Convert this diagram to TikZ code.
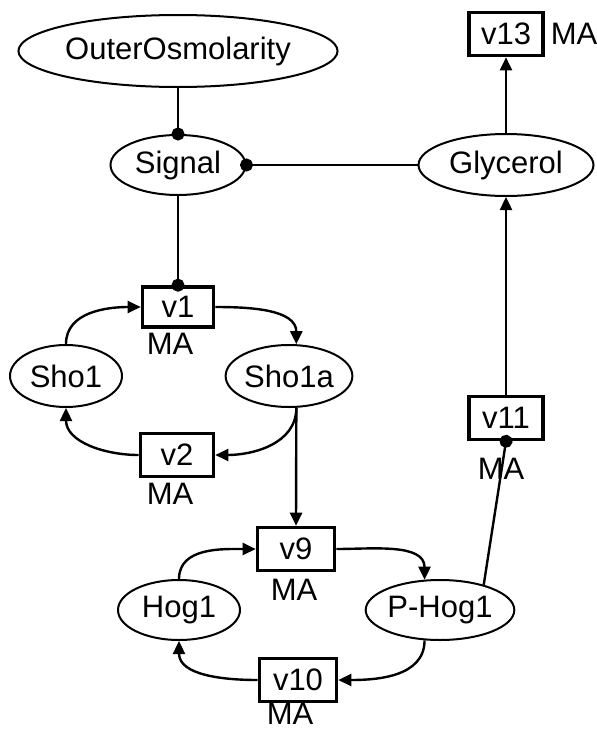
\documentclass[tikz,border=0pt]{standalone}
\usepackage{fontspec}
\setmainfont{Liberation Sans}
\usetikzlibrary{arrows.meta,shapes.geometric}
\begin{document}
\begin{tikzpicture}[x=1pt,y=-1pt,
  font=\fontsize{31}{36}\selectfont,
  species/.style={ellipse,draw,line width=2pt,inner sep=0pt},
  reaction/.style={rectangle,draw,line width=3.6pt,inner sep=0pt,minimum height=43pt},
  law/.style={inner sep=0pt},
  flow/.style={line width=2.4pt,-{Triangle[length=13pt,width=12pt]}},
  modifier/.style={line width=2.4pt,-{Circle[length=13pt]},shorten >=-6.5pt},
  link/.style={line width=2.4pt}]
\useasboundingbox (0,0) rectangle (597,731);

% species
\node[species,minimum width=270pt,minimum height=72pt] (outer) at (178,51) {OuterOsmolarity};
\node[species,minimum width=135pt,minimum height=60pt] (signal) at (178,165) {Signal};
\node[species,minimum width=175pt,minimum height=62pt] (glycerol) at (506,165) {Glycerol};
\node[species,minimum width=112pt,minimum height=62pt] (sho1) at (66,376) {Sho1};
\node[species,minimum width=114pt,minimum height=62pt] (sho1a) at (289,376) {Sho1a};
\node[species,minimum width=122pt,minimum height=60pt] (hog1) at (179,610) {Hog1};
\node[species,minimum width=120pt,minimum height=60pt] (phog1) at (440,610) {P-Hog1};

% reactions and their rate laws
\node[reaction,minimum width=74pt] (v13) at (506,34) {v13};
\node[law] at (574,34) {MA};
\node[reaction,minimum width=71pt,minimum height=40pt] (v1) at (178,307) {v1};
\node[law] at (170,344) {MA};
\node[reaction,minimum width=73pt] (v2) at (177,455) {v2};
\node[law] at (170,494) {MA};
\node[reaction,minimum width=77pt] (v9) at (296,549) {v9};
\node[law] at (294,590) {MA};
\node[reaction,minimum width=77pt] (v10) at (298,680) {v10};
\node[law] at (290,714) {MA};
\node[reaction,minimum width=74pt] (v11) at (506,418) {v11};
\node[law] at (501,469) {MA};

% modifiers
\draw[modifier] (outer.south) -- (signal.north);
\draw[modifier] (glycerol.west) -- (signal.east);
\draw[modifier] (signal.south) -- (v1.north);
\draw[modifier] (phog1.30) -- (v11.south);

% Sho1 cycle
\draw[flow] (sho1.north) to[out=90,in=180] (v1.west);
\draw[flow] (v1.east) to[out=0,in=90] (sho1a.77);
\draw[flow] (sho1a.-77) to[out=-90,in=0] (v2.east);
\draw[flow] (v2.west) to[out=180,in=-90] (sho1.south);
\draw[flow] (sho1a.-77) -- (v9.north);

% Hog1 cycle
\draw[flow] (hog1.north) to[out=90,in=180] (v9.west);
\draw[flow] (v9.east) to[out=0,in=90] (phog1.117);
\draw[flow] (phog1.-117) to[out=-90,in=0] (v10.east);
\draw[flow] (v10.west) to[out=180,in=-90] (hog1.south);

% glycerol production and efflux
\draw[flow] (v11.north) -- (glycerol.south);
\draw[flow] (glycerol.north) -- (v13.south);
\end{tikzpicture}
\end{document}
